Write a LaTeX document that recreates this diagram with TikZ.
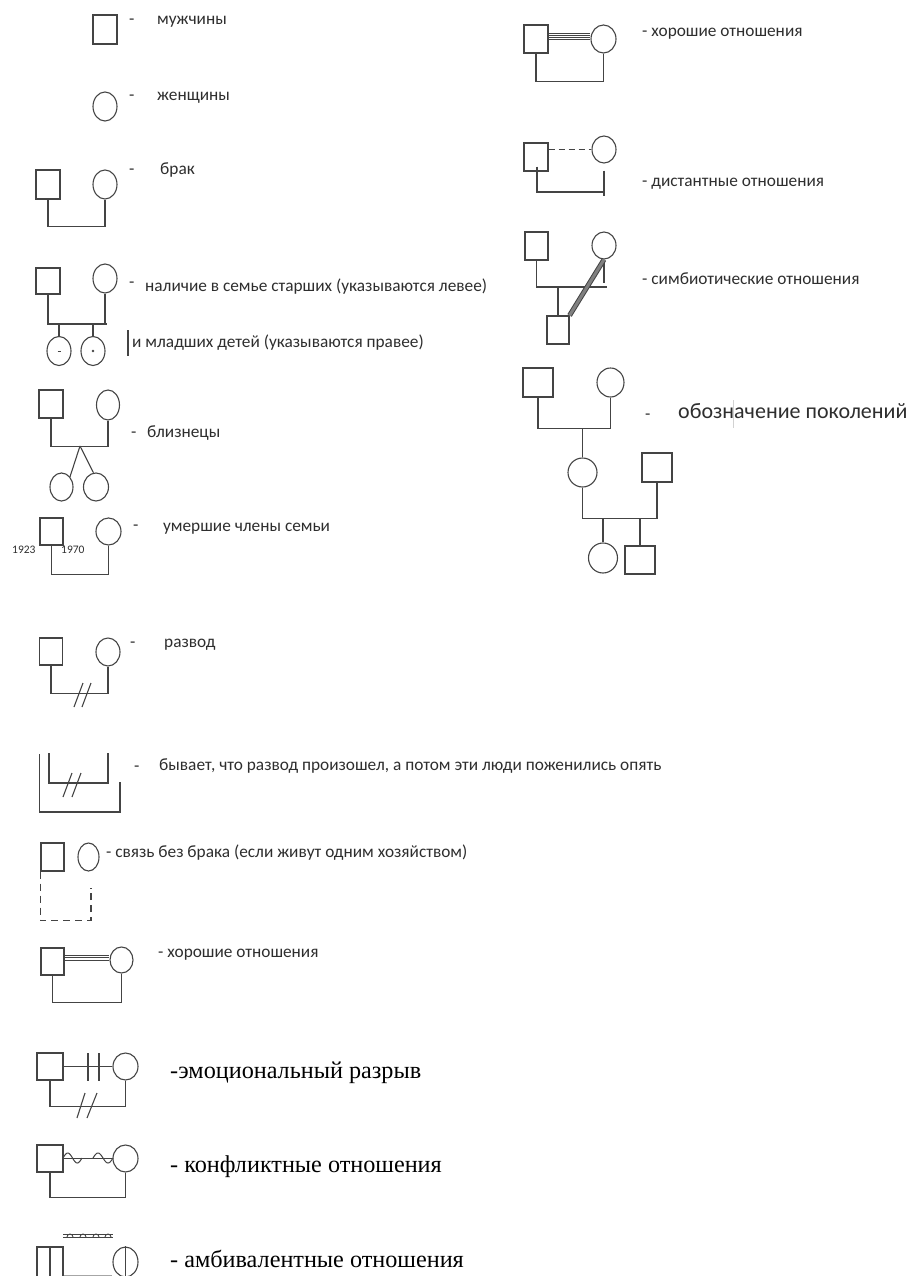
\documentclass[tikz,border=0pt]{standalone}
\usepackage{fontspec}
\setmainfont{Carlito}
\newfontfamily\serifru{Liberation Serif}
\usetikzlibrary{shapes.geometric,calc}
\definecolor{ink}{HTML}{444444}
\definecolor{txt}{HTML}{2E2E2E}
\tikzset{
 ln/.style={draw=ink, line width=1.1pt},
 msq/.style={draw=ink, line width=1.1pt, rectangle, inner sep=0pt, minimum width=24pt, minimum height=28pt},
 fcirc/.style={draw=ink, line width=1.1pt, ellipse, inner sep=0pt, minimum width=24pt, minimum height=29pt},
 lbl/.style={anchor=base west, inner sep=0pt, text=txt, font=\fontsize{17.3}{19}\selectfont},
 slbl/.style={anchor=base west, inner sep=0pt, text=black, font=\serifru\fontsize{24.2}{26}\selectfont},
 bigl/.style={anchor=base west, inner sep=0pt, text=txt, font=\fontsize{22}{25}\selectfont},
 yr/.style={anchor=base west, inner sep=0pt, text=txt, font=\fontsize{11.5}{12}\selectfont},
}
\begin{document}
\begin{tikzpicture}[x=1pt,y=-1pt]
\useasboundingbox (0,0) rectangle (915,1276);
\fill[white] (0,0) rectangle (915,1276);

% 1 men
\node[msq, minimum height=29pt] (m1) at (105,29.5) {};
\node[lbl] (d1) at (129,24.5) {-};
\node[lbl] (t1) at (157,25) {мужчины};
% 2 women
\node[fcirc] (f1) at (105,106.5) {};
\node[lbl] (d2) at (129,100.5) {-};
\node[lbl] (t2) at (157,101) {женщины};
% 3 marriage
\node[msq, minimum height=29pt] (m2) at (48,184.5) {};
\node[fcirc] (f2) at (105,184.5) {};
\draw[ln] (m2.south) -- ++(0,27) -| (f2.south);
\node[lbl] (d3) at (129,174.5) {-};
\node[lbl] (t3) at (160,175) {брак};
% 4 children
\node[msq, minimum height=26pt] (m3) at (48,281) {};
\node[fcirc] (f3) at (105,278.5) {};
\coordinate (s3) at (107,324);
\draw[ln] (m3.south) |- (s3);
\draw[ln] (f3.south) -- (f3.south |- s3);
\node[fcirc] (k1) at (59,351) {};
\node[fcirc] (k2) at (93,351) {};
\draw[ln] (k1.north) -- (k1.north |- s3);
\draw[ln] (k2.north) -- (k2.north |- s3);
\draw[ink, line width=1pt] ($(k1.center)+(-1.5,0)$) -- ($(k1.center)+(1.5,0)$);
\fill[ink] (k2.center) circle (1.3);
\node[lbl] (d4) at (129,287.5) {-};
\node[lbl] (t4) at (145,291) {наличие в семье старших (указываются левее)};
\draw[ink, line width=1.2pt] (128,330) -- (128,356);
\node[lbl] (t4b) at (132,347) {и младших детей (указываются правее)};
% 5 twins
\node[msq] (m4) at (51,404) {};
\node[fcirc, minimum width=23pt, minimum height=30pt] (f4) at (108,405) {};
\draw[ln] (m4.south) -- ++(0,28) -| (f4.south);
\coordinate (apex) at (80,446);
\node[fcirc, minimum width=23pt, minimum height=28pt] (tw1) at (61.5,487) {};
\node[fcirc, minimum width=25pt, minimum height=28pt] (tw2) at (96,487) {};
\draw[ln] (apex) -- (tw1.north east);
\draw[ln] (apex) -- (tw2.100);
\node[lbl] (d5) at (131,437.5) {-};
\node[lbl] (t5) at (147,437) {близнецы};
% 6 deceased
\node[msq, minimum width=23pt, minimum height=27pt] (m5) at (51.5,531.5) {};
\node[fcirc, minimum width=25pt, minimum height=27pt] (f5) at (108.5,531.5) {};
\draw[ln] (m5.south) -- ++(0,29) -| (f5.south);
\node[yr] (y1) at (12,553) {1923};
\node[yr] (y2) at (61,553) {1970};
\node[lbl] (d6) at (133,530.5) {-};
\node[lbl] (t6) at (163,531) {умершие члены семьи};
% 7 divorce
\node[msq, minimum width=23pt, minimum height=27pt] (m6) at (51,651.5) {};
\node[fcirc, minimum width=24pt, minimum height=28pt] (f6) at (108,652) {};
\draw[ln] (m6.south) -- ++(0,28) -| (f6.south);
\draw[ln] (74,707) -- (83,683);
\draw[ln] (82,707) -- (91,683);
\node[lbl] (d7) at (130,647.5) {-};
\node[lbl] (t7) at (164,647) {развод};
% 8 remarriage
\draw[ln] (49,753) |- (108,783) -- (108,753);
\draw[ln] (39.5,754) |- (120,812) -- (120,782);
\draw[ln] (63,797) -- (72,773);
\draw[ln] (72,797) -- (81,773);
\node[lbl] (d8) at (134,771) {-};
\node[lbl] (t8) at (159,770) {бывает, что развод произошел, а потом эти люди поженились опять};
% 9 cohabitation
\node[msq, minimum width=23pt, minimum height=28pt] (m7) at (52.5,857) {};
\node[fcirc, minimum width=21pt, minimum height=28pt] (f7) at (88.5,857) {};
\draw[ln, dash pattern=on 7pt off 5pt] (m7.south west) -- ++(0,49) -| (91,888);
\node[lbl] (t9) at (106,857) {- связь без брака (если живут одним хозяйством)};
% 10 good relations (left)
\node[msq, minimum width=23pt, minimum height=27pt] (m8) at (52.5,961.5) {};
\node[fcirc, minimum width=23pt, minimum height=26pt] (f8) at (121.5,960) {};
\draw[ink, line width=0.9pt] ($(m8.east)+(0,-6.5)$) -- ($(f8.west)+(0,-5)$);
\draw[ink, line width=0.9pt] ($(m8.east)+(0,-4)$) -- ($(f8.west)+(0,-2.5)$);
\draw[ink, line width=0.9pt] ($(m8.east)+(0,-1.5)$) -- ($(f8.west)+(0,0)$);
\draw[ln] (m8.south) -- ++(0,27) -| (f8.south);
\node[lbl] (t10) at (158,957) {- хорошие отношения};
% 11 emotional cutoff
\node[msq, minimum width=26pt, minimum height=27pt] (m9) at (50,1066.5) {};
\node[fcirc, minimum width=25pt, minimum height=27pt] (f9) at (125.5,1066.5) {};
\draw[ln] (m9.east) -- (f9.west);
\draw[ln] (88,1053) -- (88,1081);
\draw[ln] (99,1053) -- (99,1081);
\draw[ln] (m9.south) -- ++(0,26) -| (f9.south);
\draw[ln] (77,1118) -- (85,1093);
\draw[ln] (87,1118) -- (97,1093);
\node[slbl] (t11) at (170,1078.5) {-эмоциональный разрыв};
% 12 conflict
\node[msq, minimum width=26pt, minimum height=27pt] (m10) at (50,1158.5) {};
\node[fcirc, minimum width=25pt, minimum height=27pt] (f10) at (125.5,1158.5) {};
\draw[ln] (m10.east) -- (f10.west);
\draw[ink, line width=1pt] plot[domain=63:82, samples=40, smooth] (\x,{1158-5*sin(360*(\x-63)/19)});
\draw[ink, line width=1pt] plot[domain=93:113, samples=40, smooth] (\x,{1158-5*sin(360*(\x-93)/20)});
\draw[ln] (m10.south) -- ++(0,25) -| (f10.south);
\node[slbl] (t12) at (170,1172.5) {- конфликтные отношения};
% 13 ambivalent
\node[msq, minimum width=26pt, minimum height=43pt] (m11) at (50,1268.5) {};
\draw[ln] (m11.north) -- (m11.south);
\node[fcirc, minimum width=25pt, minimum height=30pt] (f11) at (125.5,1262) {};
\draw[ln] (f11.north) -- (f11.south);
\coordinate (bl) at (0,1275);
\draw[gray!70, line width=1pt] (m11.east |- bl) -- (f11.west |- bl);
\draw[ink, line width=0.8pt] (63,1234) -- (113,1234);
\draw[ink, line width=1pt] (63,1237) -- (113,1237);
\foreach \q in {70,83,96,108} \draw[ink, line width=0.9pt] (\q-3,1237) arc[start angle=180, end angle=360, radius=3];
\node[slbl] (t13) at (170,1267.5) {- амбивалентные отношения};

% RIGHT COLUMN
% 14 good relations
\node[msq] (r1m) at (536,39) {};
\node[fcirc, minimum width=25pt, minimum height=28pt] (r1f) at (603.5,39) {};
\foreach \o in {-5.5,-3.5,-1.5,0.5} \draw[ink, line width=0.8pt] ($(r1m.east)+(0,\o)$) -- ($(r1f.west)+(0,\o)$);
\draw[ln] (r1m.south) -- ++(0,28) -| (r1f.south);
\node[lbl] (t14) at (642,37) {- хорошие отношения};
% 15 distant
\node[msq] (r2m) at (536,157) {};
\node[fcirc, minimum width=24pt, minimum height=27pt] (r2f) at (604,149.5) {};
\draw[ln, dash pattern=on 6pt off 4pt] (r2f.west -| r2m.east) -- (r2f.west);
\draw[ln] ($(r2m.south)+(1,-5)$) |- ($(r2f.south)+(0,28.5)$);
\draw[ln] ($(r2f.south)+(0,7)$) -- ($(r2f.south)+(0,32)$);
\node[lbl] (t15) at (642,186) {- дистантные отношения};
% 16 symbiotic
\node[msq, minimum width=23pt] (r3m) at (536.5,246) {};
\node[fcirc, minimum width=24pt, minimum height=27pt] (r3f) at (604,245.5) {};
\node[msq, minimum width=22pt] (r3c) at (558,330) {};
\coordinate (r3h) at (607,287);
\draw[ln] (r3m.south) |- (r3h);
\draw[ln] (r3f.south) -- ++(0,23);
\draw[ln] (r3c.north) -- (r3c.north |- r3h);
\draw[draw=ink, line width=1pt, double=gray, double distance=3pt] (r3f.south) -- (r3c.north east);
\node[lbl] (t16) at (642,284) {- симбиотические отношения};
% 17 generations
\node[msq, minimum width=30pt, minimum height=29pt] (g1m) at (538,382.5) {};
\node[fcirc, minimum width=27pt, minimum height=29pt] (g1f) at (610.5,382.5) {};
\draw[ln] (g1m.south) -- ++(0,31) -| (g1f.south);
\coordinate (g1h) at (582,428);
\node[fcirc, minimum width=29pt, minimum height=29pt] (g2f) at (582.5,472.5) {};
\draw[ln] (g2f.north) -- (g2f.north |- g1h);
\node[msq, minimum width=30pt, minimum height=29pt] (g2m) at (657,467.5) {};
\draw[ln] (g2f.south) -- ++(0,31) -| (g2m.south);
\coordinate (g2h) at (600,518);
\node[fcirc, minimum width=29pt, minimum height=30pt] (g3f) at (603,558) {};
\node[msq, minimum width=30pt, minimum height=28pt] (g3m) at (640,560) {};
\draw[ln] (g3f.north) -- (g3f.north |- g2h);
\draw[ln] (g3m.north) -- (g3m.north |- g2h);
\node[lbl] (d17) at (645,419.5) {-};
\node[bigl] (t17) at (678,418.2) {обозначение поколений};
\draw[gray!35, line width=1pt] (733,400) -- (733,428);
\end{tikzpicture}
\end{document}
